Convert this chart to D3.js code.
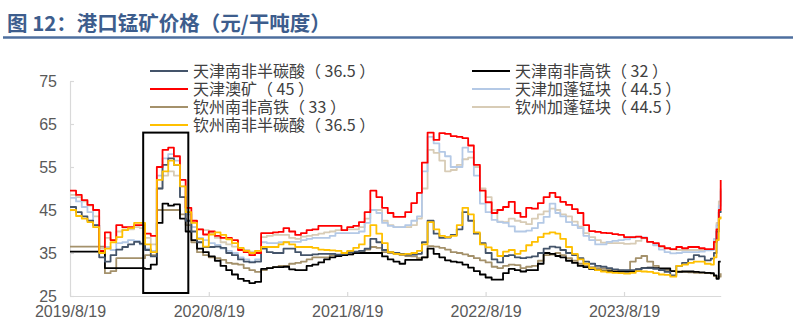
<!DOCTYPE html>
<html><head><meta charset="utf-8">
<script src="https://cdn.jsdelivr.net/npm/d3@7"></script>
<style>body{margin:0;background:#fff}</style>
</head><body>
<svg id="c" width="793" height="331"></svg>
<script>
// ---- data ----
const dates = ["2019-08-19","2019-09-04","2019-09-19","2019-10-04","2019-10-19","2019-11-04","2019-11-19","2019-12-04","2019-12-19","2020-01-04",
"2020-01-19","2020-02-04","2020-02-19","2020-03-04","2020-03-19","2020-04-04","2020-04-19","2020-05-04","2020-05-19","2020-06-04",
"2020-06-19","2020-07-04","2020-07-19","2020-08-04","2020-08-19","2020-09-04","2020-09-19","2020-10-04","2020-10-19","2020-11-04",
"2020-11-19","2020-12-04","2020-12-19","2021-01-04","2021-01-19","2021-02-04","2021-02-19","2021-03-04","2021-03-19","2021-04-04",
"2021-04-19","2021-05-04","2021-05-19","2021-06-04","2021-06-19","2021-07-04","2021-07-19","2021-08-04","2021-08-19","2021-09-04",
"2021-09-19","2021-10-04","2021-10-19","2021-11-04","2021-11-19","2021-12-04","2021-12-19","2022-01-04","2022-01-19","2022-02-04",
"2022-02-19","2022-03-04","2022-03-19","2022-04-04","2022-04-19","2022-05-04","2022-05-19","2022-06-04","2022-06-19","2022-07-04",
"2022-07-19","2022-08-04","2022-08-19","2022-09-04","2022-09-19","2022-10-04","2022-10-19","2022-11-04","2022-11-19","2022-12-04",
"2022-12-19","2023-01-04","2023-01-19","2023-02-04","2023-02-19","2023-03-04","2023-03-19","2023-04-04","2023-04-19","2023-05-04",
"2023-05-19","2023-06-04","2023-06-19","2023-07-04","2023-07-19","2023-08-04","2023-08-19","2023-09-04","2023-09-19","2023-10-04",
"2023-10-19","2023-11-04","2023-11-19","2023-12-04","2023-12-19","2024-01-04","2024-01-19","2024-02-04","2024-02-19","2024-03-04",
"2024-03-19","2024-04-04","2024-04-12","2024-04-19","2024-04-25","2024-04-30"];

const tjSemiCarb = [45.7,44.5,43.5,42.5,41.5,34,33,34.5,35.8,36.4,
37,37.6,37.2,35.7,34.2,50,55.5,57,55.5,48,
42.5,40,37.5,36.4,36.4,36.5,36.2,35,34.5,33.5,
33,32.8,33,36,35.2,35,35,36,36,35.2,
34.5,34.5,34.7,34.8,34.8,34.8,34.6,34.8,35.2,35.3,
35.5,36,38.3,37.5,35.7,35.2,35,34.8,34.6,34.6,
34.8,37.5,42.5,39.5,38.5,38.6,39.2,40.5,44.5,42.5,
39.5,37.3,35,33.5,32.8,34.3,34.5,34,33.8,34,
34.2,35,36,36.5,36.3,35.7,35,34.5,33.8,33,
32.5,32,31.8,31.5,31.2,31,31,31,31.2,31.5,
31.5,31.3,31,30.6,29.8,32,32.7,33.5,34.5,34.2,
33.3,33.7,35,40,44.5,44.8];

const tjHighIron = [35.3,35.3,35.3,35.3,35.3,35.3,31.5,31.5,31.5,31.5,
31.5,31.5,31.5,31.3,32.3,42,46.5,46,46.3,43,
40,38,36,35.2,34.2,33.2,32,31,30,29,
28.5,28,28.3,31.3,31.5,31.7,31.7,31.8,31.2,31,
31,32,32.3,32.8,33.5,34,34.3,34.5,34.7,35,
35,35,35,35,34.2,33.5,33,32.5,33.4,33.4,
33.4,34,36,34.8,34,33.3,33,32.8,32.3,31.6,
30.8,30,29.3,28.8,28.8,30.3,31.3,31,30.7,31,
31,32.5,35,34.8,34.3,34,33.2,32.7,32,31.7,
31.3,31,30.8,30.8,30.6,30.7,30.7,30.8,31.2,31.5,
31.6,31.5,31.4,31.4,30.8,30.6,30.7,30.7,30.6,30.5,
30.4,30.3,29.8,29,33,33];

const tjAus = [49.5,48.5,47.3,46.2,45,35.5,39.8,38,41.5,41,
41,41.5,41.5,39.5,39,55,59,59.5,57.5,52,
45.5,42.5,40.5,39.3,40,39,38.5,38.5,38,35.7,
35.2,34.5,35,39.6,39.6,39.8,39.9,40.8,40,39.2,
39.6,40.3,40.5,41.3,41.3,41.3,41.3,40.3,41,41.3,
42.2,44.5,49.5,48,45.5,44.3,43.4,43.4,44.5,46.6,
49,56,63,61.3,62.9,62.7,62.2,62,61.7,60,
55.5,49.5,46.8,44.3,45,45.7,46.9,44.3,43.4,45.5,
45.3,46.6,48,49,48,46.9,46.2,45.2,44.3,41.5,
40.1,39.9,39.7,39.6,39.4,39.2,38.7,38.7,38.8,38.5,
37.6,37.3,36.6,36.1,35.9,36.4,36.1,36.4,36.4,36.1,
35.9,35.9,37.6,40.5,45,52];

const tjGabon = [47.8,47,45.7,44.5,41.5,35,36.4,35.7,37.3,37.5,
38,37.8,37,36,35.5,53,57,58,56.5,50.5,
44,41,38.5,38,37.3,36.9,36,35.5,35,34,
33.5,33,33.5,37.5,37.3,37.3,37.5,37.6,37.6,37.6,
38,38.3,38.5,38.5,38.5,39,39.6,39.6,39.6,39.6,
40,42,45,44.3,42,41.3,41,41,41.5,42.5,
43.5,54,62,60.5,58.5,57.5,55,55,59.5,58.5,
53,46.5,44.5,42.7,42.2,42,41.2,40,40,40.2,
40.8,42,43.4,46.5,44.3,43.5,42.2,41.5,40.8,39,
38,37,37,37.6,37.8,38,38.2,38.6,38.7,38.6,
37.6,36.8,35.8,35.2,34.9,35,35.2,35.2,35.2,35.3,
35.6,35.7,38.3,41.5,46,49.5];

const qzHighIron = [36.5,36.5,36.5,36.5,36.5,36.5,30.3,30.8,33.8,33.8,
33.8,33.8,33.8,34.5,34.5,45,45,45,45,44,
41.5,37.5,35.2,34.5,34,33.8,33.4,32.7,32.5,32.3,
31.5,31,30.6,31,31.5,31.7,32,32,32.5,32.7,
33,33.5,34,34,34,34.5,34.5,34.5,34.7,35,
35.2,35.8,36.4,36.2,35.2,35,34.8,34.5,34.3,34.2,
33.8,34,36.6,36.5,36.2,35.8,35.2,35,34.7,34.3,
33.8,33.3,32.8,31.8,31.5,32,32.3,32.2,31.5,31.8,
32,33.2,34.5,34.6,35,34.5,33.8,33.2,32.5,32,
31.7,31.5,31.3,31.2,31,30.9,30.8,33,33.8,34.3,
33,32,31.3,31,30.8,30.7,30.6,30.5,30.4,30.4,
30.3,30.2,29.6,29.2,29.5,30.3];

const qzGabon = [48.5,48,47,46,43.5,36,38.5,38,40,40.5,
40.5,41,40.8,38.5,37,50,53,54,53,48,
42.5,41,40.5,40.3,39.7,38.5,37.5,37,36.5,36,
35.7,35.3,35.5,38.7,39,39.2,39.2,39.2,38.5,38.3,
38.8,39,39.2,39.5,39.8,40,40.3,40.3,40.5,40.5,
41,43,45,45,42.5,41.5,41,41,41,41.5,
43,50,59,58.3,56.5,54,54.3,55.5,56.8,57.2,
55,50,48,45,42.3,42.2,43,42.5,42.2,41.7,
43,44,44.7,45.3,45,44,43.5,42.3,41.1,39.6,
38.7,38,37.4,37.3,37.3,37.3,37.1,37.2,37.8,38.4,
37.6,37,36.4,36.2,35.8,35.7,35.7,35.7,35.7,35.7,
35.7,35.8,37.5,42,47,50];

const qzSemiCarb = [45,43.6,43,42.2,41,35,36,37.5,38.7,40.3,
40.8,42,42,37,35.2,52,54,56.5,55.5,50.5,
44.5,42,38.3,36.5,39.3,39.8,39.2,38.2,37.3,36.2,
35.5,35,35.5,36.4,36.4,36.4,37,37.5,37,36.4,
36.4,36.4,36.2,35.8,35.7,35.6,35.5,35,35.5,36.2,
37,39,41.5,39.5,37.3,35.2,34.8,34.7,34.8,35,
35.5,37,42.2,40.5,39,38.7,39,41.5,45.5,44,
39.8,37,36.3,35.7,34.3,35.3,35.7,34.8,35.5,36.8,
37.6,38.7,39.5,39.8,39.5,38.3,36.4,34.8,33.5,32.5,
31.5,31,30.7,30.5,30.4,30.3,30.2,30.4,30.8,30.7,
30.6,30.3,30,29.9,29.5,32,32.3,32.7,33,33,
32.5,32.3,34,38,43,43.5];

const seriesNames = ["天津南非半碳酸（ 36.5 ）","天津南非高铁（ 32 ）","天津澳矿（ 45 ）","天津加蓬锰块（ 44.5 ）","钦州南非高铁（ 33 ）","钦州加蓬锰块（ 44.5 ）","钦州南非半碳酸（ 36.5 ）"];
const seriesValues = [tjSemiCarb, tjHighIron, tjAus, tjGabon, qzHighIron, qzGabon, qzSemiCarb];
const seriesColors = ["#44546a","#000000","#ff0000","#b4c9e6","#a4916b","#d8ccb6","#ffc000"];
const drawOrder = [5,3,4,1,0,2,6];

const yTicks = [25,35,45,55,65,75];
const xTicks = ["2019-08-19","2020-08-19","2021-08-19","2022-08-19","2023-08-19"];
const xDomain = ["2019-08-19","2024-04-30"];
const yDomain = [25,75];
const boxDates = ["2020-02-28","2020-06-26"];
const boxValues = [25.7,63];
const titleText = "图 12：港口锰矿价格（元/干吨度）";

// ---- chart ----
const parse = d3.timeParse("%Y-%m-%d");
const svg = d3.select("#c");
const x = d3.scaleTime().domain(xDomain.map(parse)).range([70, 720.7]);
const y = d3.scaleLinear().domain(yDomain).range([296, 81]);

// title
svg.append("text").attr("x",7).attr("y",30.5)
  .attr("font-family","'Noto Sans CJK SC', sans-serif").attr("font-weight","bold")
  .attr("font-size",20.5).attr("fill","#3d5d8d").text(titleText);
svg.append("line").attr("x1",3).attr("x2",793).attr("y1",37.5).attr("y2",37.5)
  .attr("stroke","#4e6f9f").attr("stroke-width",2.5);

// axes
const axFont = "'Liberation Sans', Arial, sans-serif";
const gy = svg.append("g").attr("transform","translate(70,0)")
  .call(d3.axisLeft(y).tickValues(yTicks).tickSizeInner(-4).tickSizeOuter(0).tickPadding(13).tickFormat(d3.format("d")));
const gx = svg.append("g").attr("transform","translate(0,296)")
  .call(d3.axisBottom(x).tickValues(xTicks.map(parse)).tickSizeInner(-4).tickSizeOuter(0).tickPadding(10).tickFormat(d3.timeFormat("%Y/%-m/%-d")));
[gx, gy].forEach(g => {
  g.select(".domain").attr("stroke","#d9d9d9").attr("stroke-width",1.2);
  g.selectAll(".tick line").attr("stroke","#d9d9d9").attr("stroke-width",1.2);
  g.selectAll(".tick text").attr("fill","#595959").attr("font-size",16).attr("font-family",axFont);
});

// lines
const line = d3.line().x(d => x(d.date)).y(d => y(d.v)).curve(d3.curveStepAfter);
drawOrder.forEach(si => {
  const pts = dates.map((d,i) => ({date: parse(d), v: seriesValues[si][i]}));
  svg.append("path").datum(pts).attr("d", line).attr("fill","none")
    .attr("stroke", seriesColors[si]).attr("stroke-width", 1.8).attr("stroke-linejoin","round");
});

// annotation box
const bx0 = x(parse(boxDates[0])), bx1 = x(parse(boxDates[1]));
svg.append("rect").attr("x",bx0).attr("y",y(boxValues[1])).attr("width",bx1-bx0)
  .attr("height",y(boxValues[0])-y(boxValues[1])).attr("fill","none").attr("stroke","#000").attr("stroke-width",2);

// legend
const legPos = [[150,71],[472,71],[150,89],[472,89],[150,107],[472,107],[150,125]];
seriesNames.forEach((name,i) => {
  const [lx,ly] = legPos[i];
  svg.append("line").attr("x1",lx).attr("x2",lx+38).attr("y1",ly).attr("y2",ly)
    .attr("stroke",seriesColors[i]).attr("stroke-width",2);
  svg.append("text").attr("x",lx+43).attr("y",ly).attr("dy","0.36em")
    .attr("font-family","'Noto Sans CJK SC', sans-serif").attr("font-size",16)
    .attr("fill","#404040").text(name);
});
</script>
</body></html>
